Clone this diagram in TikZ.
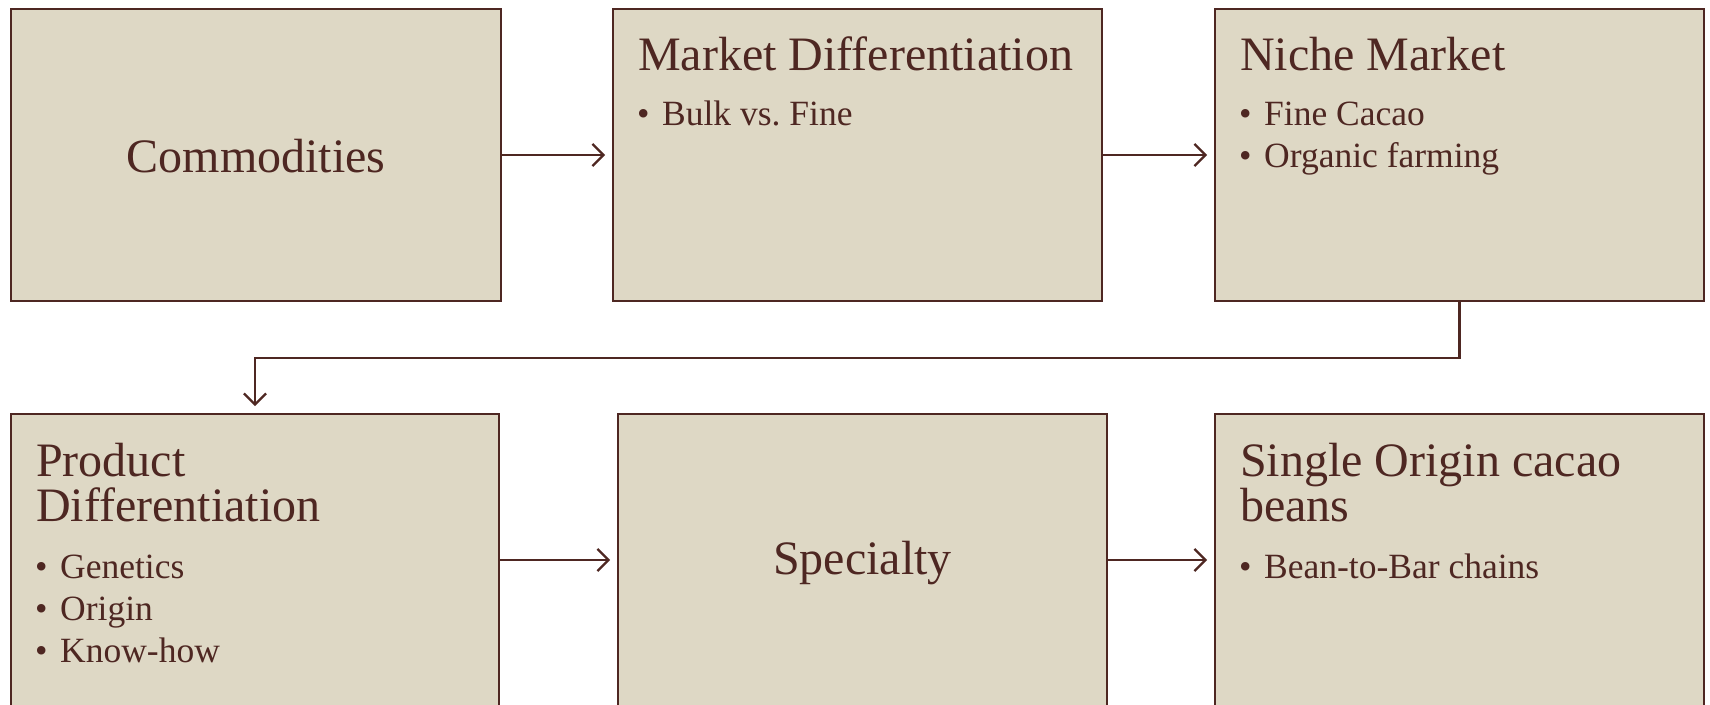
\documentclass[tikz,border=0pt]{standalone}
\usepackage{fontspec}
\setmainfont{Liberation Serif}
\usetikzlibrary{arrows.meta}
\definecolor{boxfill}{HTML}{DED8C5}
\definecolor{ink}{HTML}{4E2722}
\frenchspacing
\begin{document}
\begin{tikzpicture}[x=1pt,y=-1pt,
  box/.style={draw=ink, fill=boxfill, line width=2pt, inner sep=0pt, anchor=north west,
              minimum width=490pt, minimum height=292pt},
  title/.style={text=ink, font=\fontsize{48}{52}\selectfont, anchor=base west, inner sep=0pt},
  ctitle/.style={text=ink, font=\fontsize{48}{52}\selectfont, inner sep=0pt},
  item/.style={text=ink, font=\fontsize{35.5}{40}\selectfont, anchor=base west, inner sep=0pt},
  link/.style={draw=ink, line width=2.2pt, -{Straight Barb[length=11pt,width=22pt,line width=2.2pt]}, shorten >=7pt}]
\useasboundingbox (0,0) rectangle (1710,704);
\fill[white] (0,0) rectangle (1710,704);
\clip (0,0) rectangle (1710,704);

% top row
\node[box] (b1) at (10,8) {};
\node[box, minimum width=489pt] (b2) at (612,8) {};
\node[box, minimum width=489pt] (b3) at (1214,8) {};
% bottom row
\node[box, minimum width=488pt] (b4) at (10,413) {};
\node[box, minimum width=489pt] (b5) at (617,413) {};
\node[box, minimum width=489pt] (b6) at (1214,413) {};

% texts
\node[ctitle, yshift=-1pt] (t1) at (b1.center) {Commodities};

\node[title] (t2) at (638,70) {Market Differentiation};
\node[item] (t2a) at (637,125) {\makebox[25pt][l]{•}Bulk vs. Fine};

\node[title] (t3) at (1240,70) {Niche Market};
\node[item] (t3a) at (1239,125) {\makebox[25pt][l]{•}Fine Cacao};
\node[item] (t3b) at (1239,167) {\makebox[25pt][l]{•}Organic farming};

\node[title] (t4) at (36,476) {Product};
\node[title] (t4b) at (36,521) {Differentiation};
\node[item] (t4c) at (35,578) {\makebox[25pt][l]{•}Genetics};
\node[item] (t4d) at (35,620) {\makebox[25pt][l]{•}Origin};
\node[item] (t4e) at (35,662) {\makebox[25pt][l]{•}Know-how};

\node[ctitle, yshift=-3pt] (t5) at (b5.center) {Specialty};

\node[title] (t6) at (1240,476) {Single Origin cacao};
\node[title] (t6b) at (1240,521) {beans};
\node[item] (t6c) at (1239,578) {\makebox[25pt][l]{•}Bean-to-Bar chains};

% connectors
\draw[link] (b1.east) -- (b2.west);
\draw[link] (b2.east) -- (b3.west);
\draw[link] (b3.south) -- ++(0,56) -| (b4.north);
\draw[link] (b4.east) -- (b5.west);
\draw[link] (b5.east) -- (b6.west);
\end{tikzpicture}
\end{document}
